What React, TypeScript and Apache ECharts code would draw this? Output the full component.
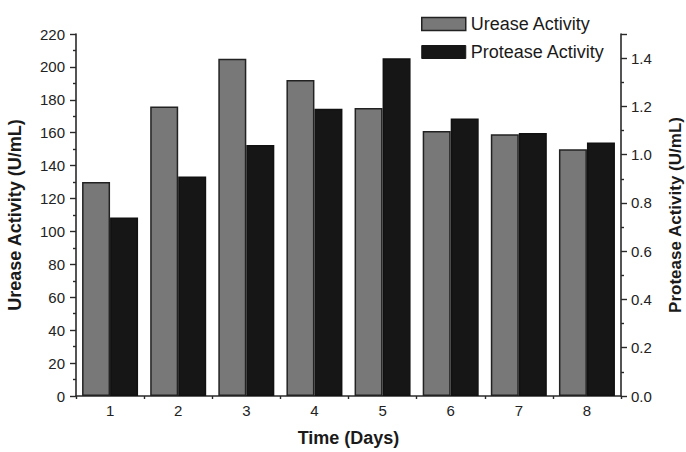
import { useEffect, useRef } from "react";
import * as echarts from "echarts";

const days = ["1", "2", "3", "4", "5", "6", "7", "8"];
const ureaseActivity = [130, 176, 205, 192, 175, 161, 159, 150];
const proteaseActivity = [0.74, 0.91, 1.04, 1.19, 1.4, 1.15, 1.09, 1.05];
const seriesNames = ["Urease Activity", "Protease Activity"];
const ureaseAxis = { min: 0, max: 220, interval: 20 };
const proteaseAxis = { min: 0, max: 1.5, interval: 0.2 };

const FONT = "'Liberation Sans', Arial, sans-serif";
const AX = "#2a2a2a";

export default function App() {
  const ref = useRef<HTMLDivElement>(null);
  useEffect(() => {
    if (!ref.current) return;
    const chart = echarts.init(ref.current, undefined, { renderer: "svg" });
    const tickLabel = { color: "#222", fontSize: 15, fontFamily: FONT };
    const nameStyle = { color: "#1a1a1a", fontSize: 18, fontWeight: "bold" as const, fontFamily: FONT };
    chart.setOption({
      animation: false,
      backgroundColor: "#fff",
      grid: { left: 76, right: 65, top: 34, bottom: 56, containLabel: false, outerBoundsMode: "none" },
      legend: {
        orient: "vertical",
        left: 416,
        top: 10,
        itemWidth: 44,
        itemHeight: 13,
        itemGap: 10,
        icon: "rect",
        textStyle: { color: "#1a1a1a", fontSize: 18, fontFamily: FONT },
        data: [
          { name: seriesNames[0], itemStyle: { color: "#787878", borderColor: "#222", borderWidth: 1.5 } },
          { name: seriesNames[1], itemStyle: { color: "#161616", borderColor: "#161616", borderWidth: 1 } },
        ],
      },
      xAxis: [
        {
          type: "category",
          data: days,
          name: "Time (Days)",
          nameLocation: "middle",
          nameGap: 33,
          nameTextStyle: nameStyle,
          axisLine: { lineStyle: { color: AX, width: 1.6 } },
          axisTick: { alignWithLabel: true, length: 6, lineStyle: { color: AX, width: 1.4 } },
          axisLabel: { ...tickLabel, margin: 7 },
        },
        {
          type: "category",
          data: days,
          position: "bottom",
          axisLine: { show: false },
          axisTick: { show: true, length: 3, lineStyle: { color: AX, width: 1.4 } },
          axisLabel: { show: false },
        },
      ],
      yAxis: [
        {
          type: "value",
          ...ureaseAxis,
          name: "Urease Activity (U/mL)",
          nameLocation: "middle",
          nameGap: 52,
          nameTextStyle: nameStyle,
          splitLine: { show: false },
          axisLine: { show: true, lineStyle: { color: AX, width: 1.6 } },
          axisTick: { show: true, length: 6, lineStyle: { color: AX, width: 1.4 } },
          minorTick: { show: true, splitNumber: 2, length: 3, lineStyle: { color: AX, width: 1.4 } },
          axisLabel: { ...tickLabel, margin: 11 },
        },
        {
          type: "value",
          ...proteaseAxis,
          position: "right",
          name: "Protease Activity (U/mL)",
          nameLocation: "middle",
          nameGap: 46,
          nameTextStyle: { ...nameStyle, fontSize: 17 },
          splitLine: { show: false },
          axisLine: { show: true, lineStyle: { color: AX, width: 1.6 } },
          axisTick: { show: true, length: 6, lineStyle: { color: AX, width: 1.4 } },
          minorTick: { show: true, splitNumber: 2, length: 3, lineStyle: { color: AX, width: 1.4 } },
          axisLabel: {
            ...tickLabel,
            margin: 10,
            showMaxLabel: false,
            formatter: (v: number) => (v > 1.45 ? "" : v.toFixed(1)),
          },
        },
      ],
      series: [
        {
          name: seriesNames[0],
          type: "bar",
          xAxisIndex: 0,
          yAxisIndex: 0,
          data: ureaseActivity,
          barWidth: 28,
          barGap: "0%",
          itemStyle: { color: "#787878", borderColor: "#222", borderWidth: 1.5 },
        },
        {
          name: seriesNames[1],
          type: "bar",
          xAxisIndex: 0,
          yAxisIndex: 1,
          data: proteaseActivity,
          barWidth: 28,
          barGap: "0%",
          itemStyle: { color: "#161616", borderColor: "#111", borderWidth: 1.5 },
        },
      ],
    });
    return () => chart.dispose();
  }, []);
  return <div ref={ref} style={{ position: "fixed", left: 0, top: 0, width: 686, height: 452 }} />;
}
